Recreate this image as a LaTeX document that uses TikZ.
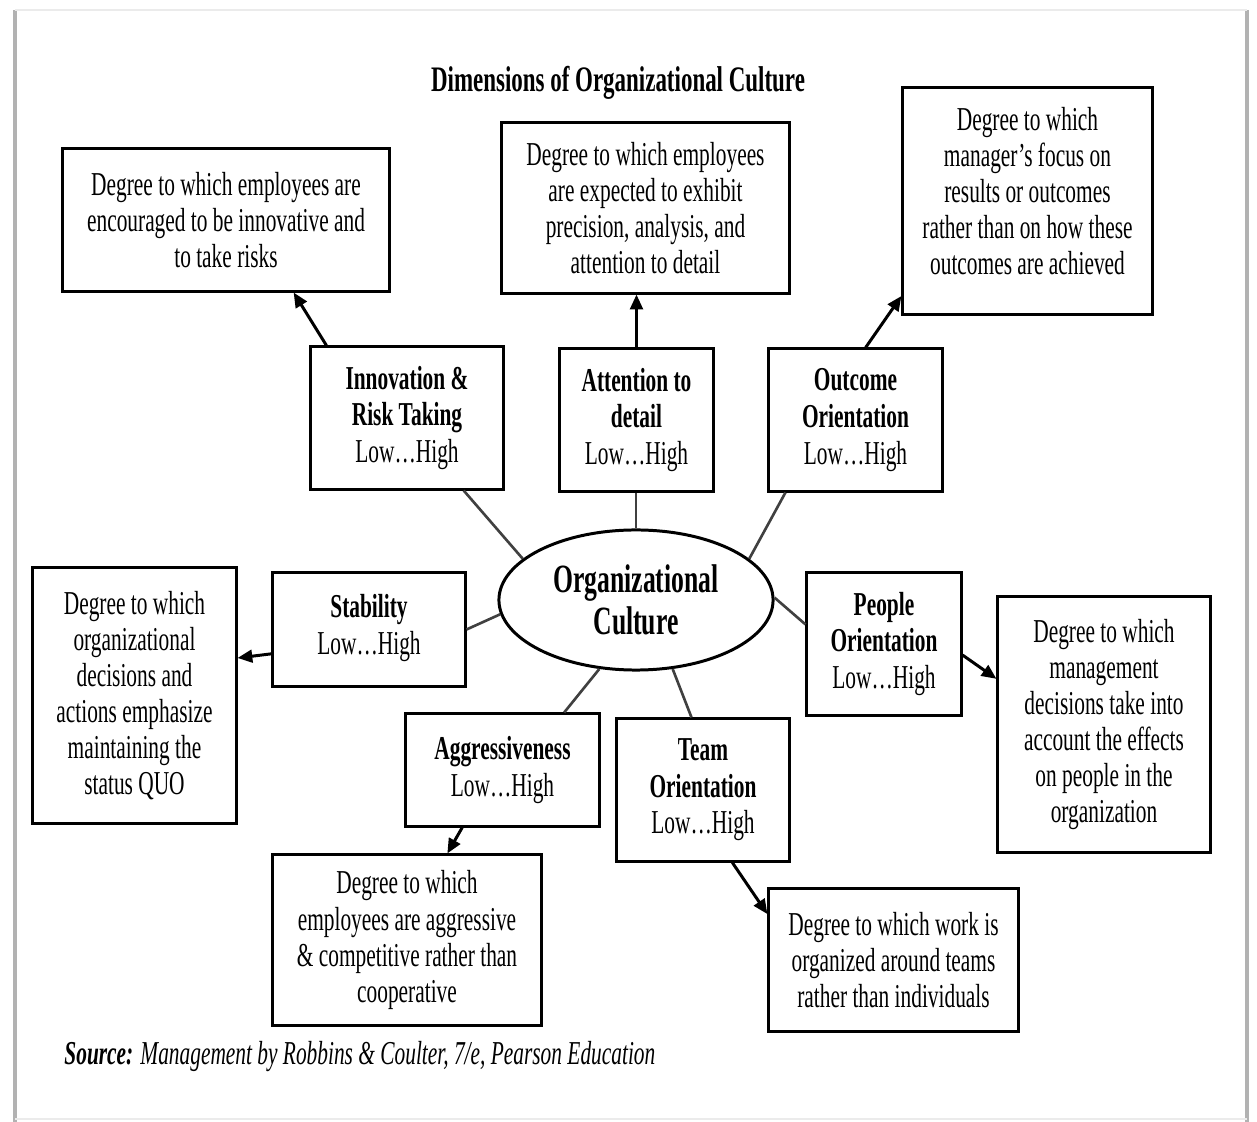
\documentclass[tikz,border=0pt]{standalone}
\usepackage{fontspec}
\setmainfont[FakeStretch=0.64]{Liberation Serif}
\usetikzlibrary{arrows.meta, shapes.geometric, positioning}

\begin{document}
\begin{tikzpicture}[
		x=0.01cm, y=-0.01cm,                 % Pixelraster
		>={Triangle[length=4.2pt, width=3.6pt]},
		every node/.style={font=\fontsize{9.5}{10.25}\selectfont},
		descbox/.style={
			draw,
			line width=0.85pt,
			align=center,
			inner sep=2pt},
		dimbox/.style={
			draw,
			line width=0.85pt,
			align=center,
			inner sep=2pt,
			font=\fontsize{9.5}{10.4}\selectfont},
		link/.style={draw=black!75, line width=0.75pt},
		pointer/.style={->, line width=0.85pt}
		]
		
		\useasboundingbox (0,0) rectangle (1257,1122);
		
		% Seitenrand
		\draw[black!30, line width=1.2pt] (15,10) -- (15,1122);
		\draw[black!30, line width=1.2pt] (1247,10) -- (1247,1122);
		\draw[black!8, line width=0.6pt] (15,10) -- (1247,10);
		\draw[black!8, line width=0.6pt] (15,1119) -- (1247,1119);
		
		% Titel
		\node[font=\bfseries\fontsize{10.2}{11}\selectfont] (title) at (618,83)
			{Dimensions of Organizational Culture};
		
		% Mitte
		\node[draw, ellipse, line width=0.85pt, minimum width=2.74cm, minimum height=1.40cm,
			align=center, font=\bfseries\fontsize{11.4}{12}\selectfont] (org) at (636,600)
			{Organizational \\ Culture};
		
		% Dimensionen
		\node[dimbox, minimum width=1.92cm, minimum height=1.42cm] (innov) at (407,418)
			{\textbf{Innovation \&} \\ \textbf{Risk Taking} \\ Low\ldots High};
		\node[dimbox, minimum width=1.53cm, minimum height=1.42cm] (attn) at (636.5,420)
			{\textbf{Attention to} \\ \textbf{detail} \\ Low\ldots High};
		\node[dimbox, minimum width=1.73cm, minimum height=1.42cm] (outc) at (855.5,420)
			{\textbf{Outcome} \\ \textbf{Orientation} \\ Low\ldots High};
		\node[dimbox, minimum width=1.92cm, minimum height=1.13cm] (stab) at (369,629.5)
			{\textbf{Stability} \\ Low\ldots High\rule[-0.1cm]{0pt}{0pt}};
		\node[dimbox, minimum width=1.54cm, minimum height=1.42cm] (peop) at (884,644)
			{\textbf{People} \\ \textbf{Orientation} \\ Low\ldots High};
		\node[dimbox, minimum width=1.93cm, minimum height=1.12cm] (aggr) at (502.5,770)
			{\textbf{Aggressiveness} \\ Low\ldots High};
		\node[dimbox, minimum width=1.72cm, minimum height=1.42cm] (team) at (703,790)
			{\textbf{Team} \\ \textbf{Orientation} \\ Low\ldots High};
		
		% Beschreibungen
		\node[descbox, minimum width=3.26cm, minimum height=1.42cm] (innd) at (226,220)
			{Degree to which employees are \\ encouraged to be innovative and \\ to take risks};
		\node[descbox, minimum width=2.87cm, minimum height=1.70cm] (attd) at (645.5,208)
			{Degree to which employees \\ are expected to exhibit \\ precision, analysis, and \\ attention to detail};
		\node[descbox, minimum width=2.49cm, minimum height=2.26cm] (outd) at (1027.5,201)
			{Degree to which \\ manager's focus on \\ results or outcomes \\ rather than on how these \\ outcomes are achieved\rule[-0.2cm]{0pt}{0pt}};
		\node[descbox, minimum width=2.03cm, minimum height=2.55cm] (stbd) at (134.5,695.5)
			{Degree to which \\ organizational \\ decisions and \\ actions emphasize \\ maintaining the \\ status QUO};
		\node[descbox, minimum width=2.12cm, minimum height=2.55cm] (pepd) at (1104,724.5)
			{Degree to which \\ management \\ decisions take into \\ account the effects \\ on people in the \\ organization};
		\node[descbox, minimum width=2.68cm, minimum height=1.70cm] (agd) at (407,940)
			{Degree to which \\ employees are aggressive \\ \& competitive rather than \\ cooperative};
		\node[descbox, minimum width=2.49cm, minimum height=1.42cm] (tmd) at (893.5,960)
			{Degree to which work is \\ organized around teams \\ rather than individuals};
		
		% Quelle
		\node[anchor=west, font=\itshape\fontsize{9.5}{11}\selectfont] (src) at (52,1057)
			{\textbf{Source:} Management by Robbins \& Coulter, 7/e, Pearson Education};
		
		% Verbindungen zur Mitte
		\draw[link] (org.160) -- (innov.-52);
		\draw[link] (org.north) -- (org.north |- attn.south);
		\draw[link] (org.20) -- (outc.-134);
		\draw[link] (org.186) -- (stab.east);
		\draw[link] (org.1) -- (peop.166);
		\draw[link] (org.-118) -- (aggr.43);
		\draw[link] (org.-62) -- (team.99);
		
		% Pfeile zu den Beschreibungen
		\draw[pointer] (innov.138) -- (innd.-47);
		\draw[pointer] (attn.north) -- (attn.north |- attd.south);
		\draw[pointer] (outc.82) -- (outd.-143);
		\draw[pointer] (stab.194) -- (stbd.20);
		\draw[pointer] (peop.-8) -- (pepd.157);
		\draw[pointer] (aggr.-125) -- (agd.65);
		\draw[pointer] (team.-68) -- (tmd.160);
		
	\end{tikzpicture}
\end{document}
